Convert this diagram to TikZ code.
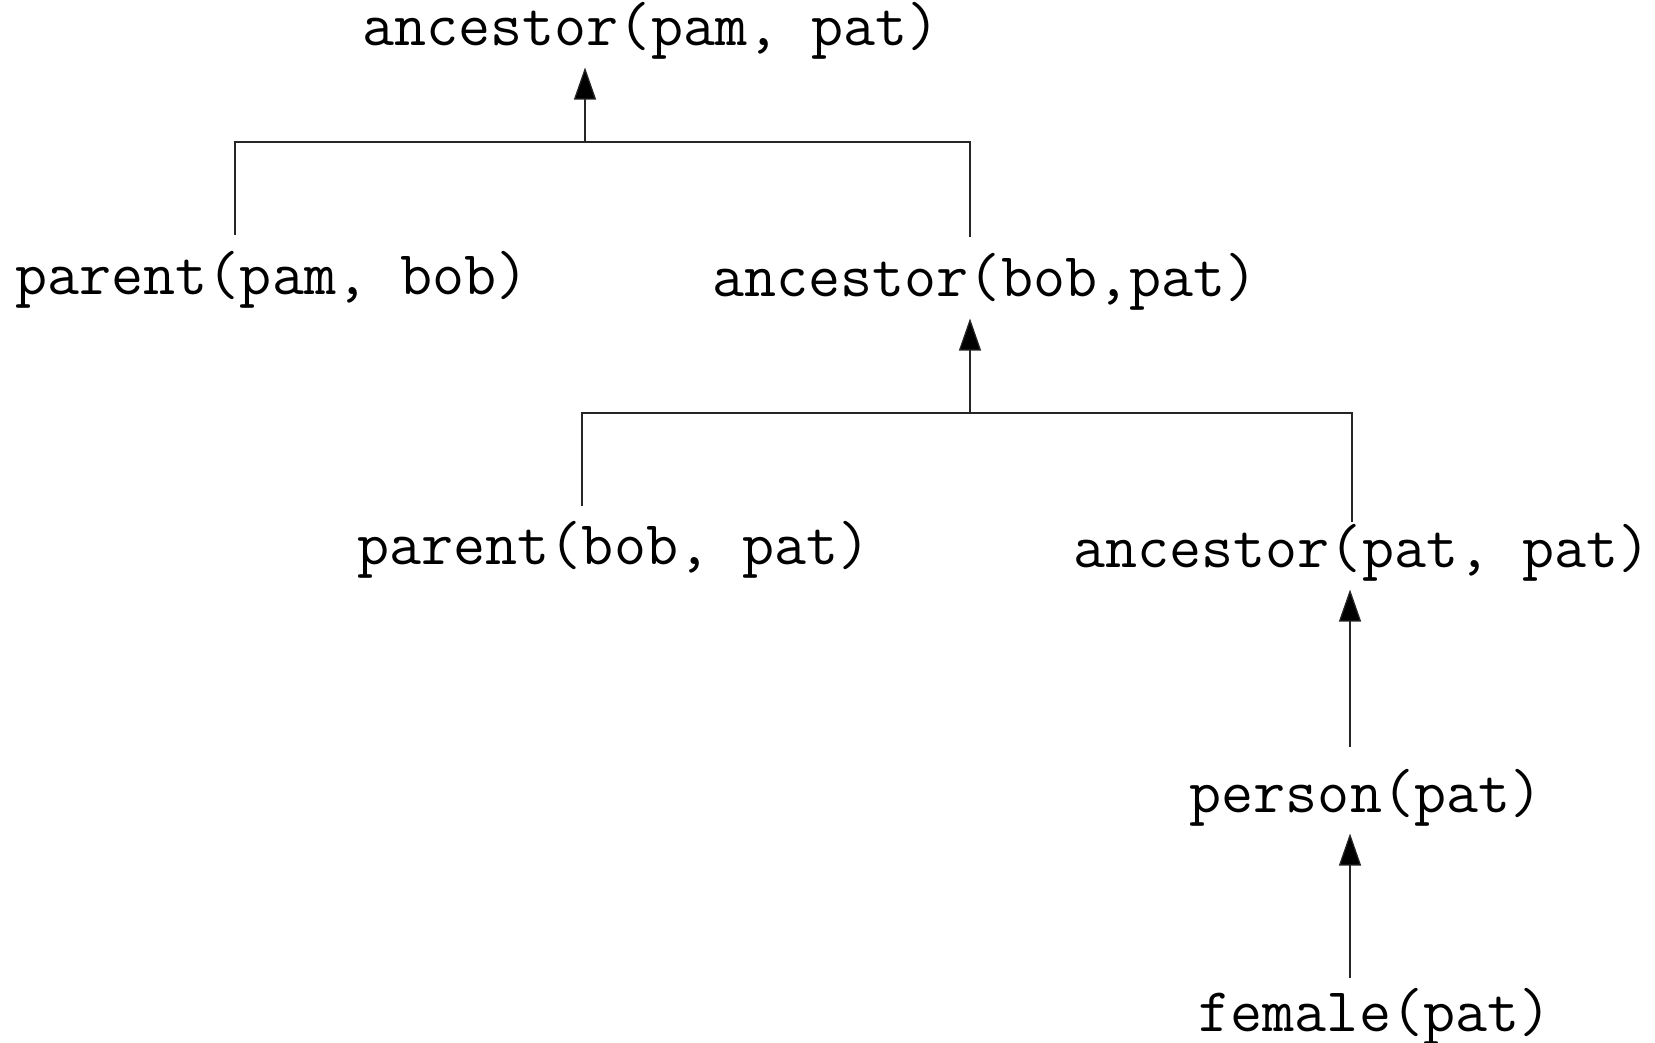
\documentclass[tikz,border=0pt]{standalone}
\usepackage{fontspec}
\usetikzlibrary{positioning,arrows.meta}

\begin{document}
\begin{tikzpicture}[
        goal/.style={font=\ttfamily\fontsize{17.7}{21}\selectfont, anchor=base, inner xsep=0pt, inner ysep=0.7mm},
        link/.style={draw=black!85, line width=0.35pt},
        proof/.style={link, -{Triangle[length=3.2mm, width=2.2mm, fill=black]}}
    ]
    \useasboundingbox (0,0) rectangle (16.55,10.42);

    % Goals of the proof tree
    \node[goal] (G) at (6.51, 9.96) {ancestor(pam, pat)};
    \node[goal] (P1) at (2.72, 7.47) {parent(pam, bob)};
    \node[goal] (A2) at (9.85, 7.45) {ancestor(bob,pat)};
    \node[goal] (P2) at (6.14, 4.77) {parent(bob, pat)};
    \node[goal] (A3) at (13.62, 4.74) {ancestor(pat, pat)};
    \node[goal] (Pe) at (13.66, 2.30) {person(pat)};
    \node[goal] (F) at (13.75, 0.11) {female(pat)};

    % First clause
    \coordinate (J1) at (5.85, 9.00);
    \coordinate (L1) at (2.35, 8.07);
    \coordinate (R1) at (9.70, 8.05);
    \draw[proof] (J1) -- (J1 |- G.south);
    \draw[link] (L1) |- (R1 |- J1) -- (R1);

    % Second clause
    \coordinate (J2) at (9.70, 6.29);
    \coordinate (L2) at (5.82, 5.36);
    \coordinate (R2) at (13.52, 5.20);
    \draw[proof] (J2) -- (J2 |- A2.south);
    \draw[link] (L2) |- (R2 |- J2) -- (R2);

    % Single goal steps
    \coordinate (T3) at (13.50, 2.95);
    \coordinate (T4) at (13.50, 0.64);
    \draw[proof] (T3) -- (T3 |- A3.south);
    \draw[proof] (T4) -- (T4 |- Pe.south);
    % \draw[proof] (F) -- (Pe);
\end{tikzpicture}
\end{document}
